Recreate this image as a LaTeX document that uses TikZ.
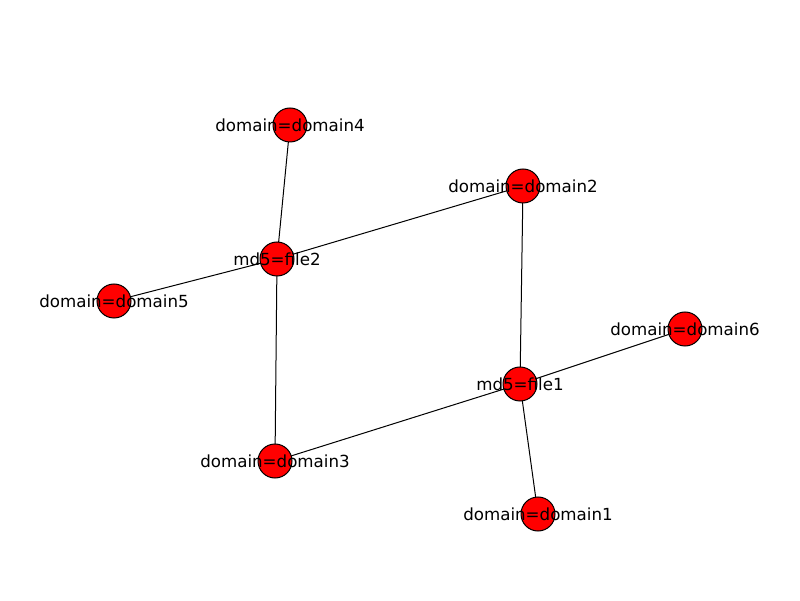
\documentclass[tikz,border=0pt]{standalone}
\usepackage{fontspec}
\setmainfont{DejaVu Sans}
\usepackage{tikz}
\usetikzlibrary{backgrounds}

\begin{document}
\begin{tikzpicture}[x=1pt,y=1pt,semithick,
                    every label/.style={font=\fontsize{16.67}{20}\selectfont,inner sep=0pt}]
  \tikzstyle{vertex}=[circle,fill=red,draw=black,line width=1pt,minimum size=34pt,inner sep=0pt]
  \useasboundingbox (0,0) rectangle (800,600);

  \node[vertex,label={center:{domain=domain4}}] (d4) at (290,475) {};
  \node[vertex,label={center:{domain=domain2}}] (d2) at (523,414) {};
  \node[vertex,label={center:{md5=file2}}]      (f2) at (277,341) {};
  \node[vertex,label={center:{domain=domain5}}] (d5) at (114,299) {};
  \node[vertex,label={center:{domain=domain6}}] (d6) at (685,271) {};
  \node[vertex,label={center:{md5=file1}}]      (f1) at (520,216) {};
  \node[vertex,label={center:{domain=domain3}}] (d3) at (275,139) {};
  \node[vertex,label={center:{domain=domain1}}] (d1) at (538,86)  {};

  \begin{pgfonlayer}{background}
  \path[draw,line width=1pt] (d4.center) -- (f2.center)
           (f2.center) -- (d2.center)
           (f2.center) -- (d5.center)
           (f2.center) -- (d3.center)
           (d2.center) -- (f1.center)
           (f1.center) -- (d6.center)
           (f1.center) -- (d3.center)
           (f1.center) -- (d1.center);
  \end{pgfonlayer}
\end{tikzpicture}
\end{document}
